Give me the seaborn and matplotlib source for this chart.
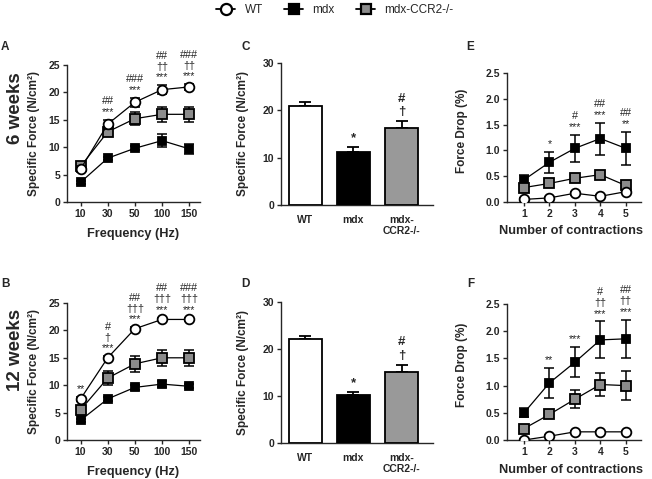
import numpy as np
import pandas as pd
import seaborn as sns
import matplotlib.pyplot as plt
from matplotlib.lines import Line2D

sns.set_style('ticks')
plt.rcParams['font.family'] = ['Liberation Sans', 'DejaVu Sans']

groups = ['WT', 'mdx', 'mdx-CCR2-/-']
freqs = ['10', '30', '50', '100', '150']
contractions = ['1', '2', '3', '4', '5']

# A: force-frequency, 6 weeks
a_vals = {'WT': [6.0, 14.2, 18.2, 20.5, 21.0],
          'mdx': [3.6, 8.0, 9.8, 11.2, 9.7],
          'mdx-CCR2-/-': [6.5, 12.8, 15.2, 16.0, 16.0]}
a_errs = {'WT': [0.5, 0.8, 0.8, 0.8, 0.5],
          'mdx': [0.3, 0.3, 0.4, 1.2, 0.9],
          'mdx-CCR2-/-': [0.5, 0.8, 1.2, 1.4, 1.4]}
a_marks = {1: '##\n***', 2: '###\n***', 3: '##\n††\n***', 4: '###\n††\n***'}

# B: force-frequency, 12 weeks
b_vals = {'WT': [7.5, 15.0, 20.3, 22.0, 22.0],
          'mdx': [3.6, 7.5, 9.6, 10.2, 9.8],
          'mdx-CCR2-/-': [5.5, 11.3, 13.9, 15.0, 15.0]}
b_errs = {'WT': [0.3, 0.3, 0.3, 0.3, 0.3],
          'mdx': [0.3, 0.4, 0.4, 0.5, 0.4],
          'mdx-CCR2-/-': [0.5, 1.3, 1.4, 1.5, 1.5]}
b_marks = {0: '**', 1: '#\n†\n***', 2: '##\n†††\n***', 3: '##\n†††\n***', 4: '###\n†††\n***'}

# C, D: specific force bars
c_vals = [21.0, 11.3, 16.2]
c_errs = [0.7, 1.0, 1.5]
d_vals = [22.2, 10.3, 15.2]
d_errs = [0.5, 0.5, 1.5]
bar_marks = {1: '*', 2: '#\n†'}

# E: force drop, 6 weeks
e_vals = {'WT': [0.05, 0.08, 0.17, 0.11, 0.20],
          'mdx': [0.43, 0.77, 1.04, 1.23, 1.04],
          'mdx-CCR2-/-': [0.28, 0.36, 0.46, 0.53, 0.32]}
e_errs = {'WT': [0.02, 0.02, 0.03, 0.02, 0.03],
          'mdx': [0.10, 0.20, 0.26, 0.31, 0.32],
          'mdx-CCR2-/-': [0.04, 0.03, 0.03, 0.04, 0.04]}
e_marks = {1: '*', 2: '#\n***', 3: '##\n***', 4: '##\n**'}

# F: force drop, 12 weeks
f_vals = {'WT': [0.0, 0.07, 0.15, 0.15, 0.15],
          'mdx': [0.50, 1.05, 1.43, 1.84, 1.86],
          'mdx-CCR2-/-': [0.21, 0.47, 0.75, 1.02, 1.00]}
f_errs = {'WT': [0.01, 0.02, 0.02, 0.02, 0.02],
          'mdx': [0.08, 0.27, 0.28, 0.34, 0.35],
          'mdx-CCR2-/-': [0.05, 0.03, 0.16, 0.22, 0.27]}
f_marks = {1: '**', 2: '***', 3: '#\n††\n***', 4: '##\n††\n***'}

faces = {'WT': 'white', 'mdx': 'black', 'mdx-CCR2-/-': '#8c8c8c'}
markers = {'WT': 'o', 'mdx': 's', 'mdx-CCR2-/-': 's'}
sizes = {'WT': 7, 'mdx': 6.2, 'mdx-CCR2-/-': 6.5}

W, H = 652, 479
fig = plt.figure(figsize=(W / 100, H / 100), dpi=100)


def box(l, t, r, b):
    return [l / W, 1 - b / H, (r - l) / W, (b - t) / H]


def style(ax):
    sns.despine(ax=ax)
    for s in ['left', 'bottom']:
        ax.spines[s].set_linewidth(1.0)
    ax.tick_params(length=3, width=1.0, labelsize=7.5, pad=2)
    for lab in ax.get_xticklabels() + ax.get_yticklabels():
        lab.set_fontweight('bold')


def line_panel(ax, xlabels, vals, errs, marks, ylim, yticks, xlim, start=0):
    x = np.arange(len(xlabels)) + start
    for i, name in enumerate(['mdx', 'mdx-CCR2-/-', 'WT']):
        z = 3 + 2 * i
        ax.errorbar(x, vals[name], yerr=errs[name], fmt='none', ecolor='black',
                    elinewidth=1.1, capsize=3.5, capthick=1.1, zorder=z)
        df = pd.DataFrame({'x': x, 'y': vals[name]})
        sns.lineplot(data=df, x='x', y='y', ax=ax, color='black', lw=0.9,
                     marker=markers[name], markersize=sizes[name],
                     markerfacecolor=faces[name], markeredgecolor='black',
                     markeredgewidth=1.3, zorder=z + 1, legend=False)
    tops = np.max([np.array(vals[n]) + np.array(errs[n]) for n in vals], axis=0)
    for i, txt in marks.items():
        ax.annotate(txt, (x[i], tops[i]), xytext=(0, 2), textcoords='offset points',
                    ha='center', va='bottom', fontsize=7.8, linespacing=1.1,
                    annotation_clip=False)
    ax.set_xticks(x)
    ax.set_xticklabels(xlabels)
    ax.set_xlim(*xlim)
    ax.set_ylim(*ylim)
    ax.set_yticks(yticks)
    style(ax)


def bar_panel(ax, vals, errs):
    sns.barplot(x=groups, y=vals, hue=groups, palette=['white', 'black', '#999999'],
                edgecolor='black', linewidth=1.3, width=0.68, legend=False, ax=ax,
                zorder=3)
    ax.errorbar(range(3), vals, yerr=[[0, 0, 0], errs], fmt='none', ecolor='black',
                elinewidth=1.3, capsize=4.5, capthick=1.3, zorder=2)
    tops = np.array(vals) + np.array(errs)
    for i, txt in bar_marks.items():
        ax.annotate(txt, (i, tops[i]), xytext=(0, 2), textcoords='offset points',
                    ha='center', va='bottom', fontsize=9.5, fontweight='bold',
                    linespacing=1.15, annotation_clip=False)
    ax.set_xticks(range(3))
    ax.set_xticklabels(['WT', 'mdx', 'mdx-\nCCR2-/-'])
    ax.set_xlim(-0.5, 2.65)
    ax.set_ylim(0, 30)
    ax.set_yticks([0, 10, 20, 30])
    style(ax)
    ax.tick_params(axis='x', length=0, pad=7)
    ax.set_xlabel('')


ylab_force = 'Specific Force (N/cm²)'
lab_kw = dict(fontsize=8.5, fontweight='bold')

axA = fig.add_axes(box(67, 65, 200, 202))
line_panel(axA, freqs, a_vals, a_errs, a_marks, (0, 25), [0, 5, 10, 15, 20, 25], (-0.5, 4.4))
axB = fig.add_axes(box(67, 303, 200, 440))
line_panel(axB, freqs, b_vals, b_errs, b_marks, (0, 25), [0, 5, 10, 15, 20, 25], (-0.5, 4.4))
for ax in (axA, axB):
    ax.set_ylabel(ylab_force, **lab_kw)
    ax.set_xlabel('Frequency (Hz)', fontsize=9.2, fontweight='bold')
    ax.yaxis.set_label_coords(-0.2, 0.5)
    ax.xaxis.set_label_coords(0.5, -0.19)

axC = fig.add_axes(box(281, 63, 433, 205))
bar_panel(axC, c_vals, c_errs)
axD = fig.add_axes(box(281, 302, 433, 443))
bar_panel(axD, d_vals, d_errs)
for ax in (axC, axD):
    ax.set_ylabel(ylab_force, **lab_kw)
    ax.yaxis.set_label_coords(-0.21, 0.5)

axE = fig.add_axes(box(507, 73, 641, 202))
line_panel(axE, contractions, e_vals, e_errs, e_marks, (0, 2.5),
           [0, 0.5, 1.0, 1.5, 2.0, 2.5], (0.33, 5.6), start=1)
axF = fig.add_axes(box(507, 304, 641, 440))
line_panel(axF, contractions, f_vals, f_errs, f_marks, (0, 2.5),
           [0, 0.5, 1.0, 1.5, 2.0, 2.5], (0.33, 5.6), start=1)
for ax in (axE, axF):
    ax.set_ylabel('Force Drop (%)', **lab_kw)
    ax.set_xlabel('Number of contractions', fontsize=9.2, fontweight='bold')
    ax.yaxis.set_label_coords(-0.29, 0.55)
    ax.xaxis.set_label_coords(0.48, -0.18)
    ax.yaxis.set_major_formatter(plt.FormatStrFormatter('%.1f'))

# panel letters and row labels
for letter, px, py in [('A', 5, 47), ('B', 5, 284), ('C', 246, 47), ('D', 245, 284),
                       ('E', 470, 47), ('F', 471, 284)]:
    fig.text(px / W, 1 - py / H, letter, fontsize=8.5, fontweight='bold', ha='center', va='center')
fig.text(15 / W, 1 - 108 / H, '6 weeks', rotation=90, fontsize=13.5, fontweight='bold',
         ha='center', va='center')
fig.text(15 / W, 1 - 350 / H, '12 weeks', rotation=90, fontsize=13.5, fontweight='bold',
         ha='center', va='center')

# legend
handles = [Line2D([], [], color='black', lw=1.3, marker=markers[g], markersize=sizes[g] + 1,
                  markerfacecolor=faces[g], markeredgecolor='black', markeredgewidth=1.6)
           for g in groups]
fig.legend(handles, groups, loc='center', bbox_to_anchor=(335 / W, 1 - 10 / H), ncol=3,
           frameon=False, fontsize=8.5, handlelength=1.6, handletextpad=0.8,
           columnspacing=1.8)

fig.savefig('out.png', dpi=100)
